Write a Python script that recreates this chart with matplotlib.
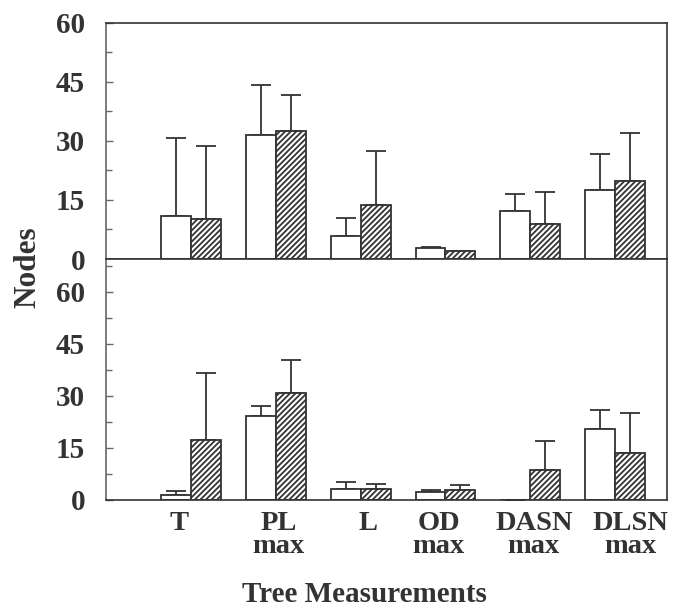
import matplotlib
matplotlib.use("Agg")
import matplotlib.pyplot as plt
import numpy as np
from matplotlib.ticker import MultipleLocator

# ---------------- data ----------------
categories = ["T", "PL\nmax", "L", "OD\nmax", "DASN\nmax", "DLSN\nmax"]

top_open_mean = [11.0, 31.6, 5.8, 2.7, 12.1, 17.5]
top_open_upper = [30.7, 44.1, 10.4, 3.1, 16.4, 26.7]
top_hatch_mean = [10.2, 32.5, 13.75, 2.0, 8.8, 19.7]
top_hatch_upper = [28.7, 41.6, 27.5, 2.0, 17.0, 32.0]

bot_open_mean = [1.3, 24.1, 3.2, 2.4, 0.0, 20.6]
bot_open_upper = [2.6, 27.0, 5.2, 2.8, 0.0, 25.9]
bot_hatch_mean = [17.35, 30.9, 3.2, 2.9, 8.65, 13.6]
bot_hatch_upper = [36.6, 40.5, 4.5, 4.3, 17.1, 25.1]

y_ticks = [0, 15, 30, 45, 60]

# ---------------- style ----------------
INK = "#333333"
FONT = "Liberation Serif"
plt.rcParams["font.family"] = [FONT, "DejaVu Serif"]
plt.rcParams["font.weight"] = "bold"
plt.rcParams["hatch.linewidth"] = 1.3
plt.rcParams["hatch.color"] = INK

W, H = 676, 608
fig = plt.figure(figsize=(W / 100, H / 100), dpi=100)

ax_left = 106 / W
ax_w = (667 - 106) / W
top_ax = fig.add_axes([ax_left, 1 - 259 / H, ax_w, (259 - 22.7) / H])
bot_ax = fig.add_axes([ax_left, 1 - 500 / H, ax_w, (500 - 259) / H])

x = np.arange(1, len(categories) + 1)
bw = 0.353
label_shift = [-0.14, 0.03, 0.09, -0.08, 0.04, 0.18]


def panel(ax, om, ou, hm, hu, ytop):
    om = np.array(om); ou = np.array(ou)
    hm = np.array(hm); hu = np.array(hu)
    xo = x - bw / 2
    xh = x + bw / 2
    ax.errorbar(xo, om, yerr=[np.zeros_like(om), ou - om], fmt="none",
                ecolor=INK, elinewidth=1.3, capsize=7, capthick=1.3, zorder=1)
    ax.errorbar(xh, hm, yerr=[np.zeros_like(hm), hu - hm], fmt="none",
                ecolor=INK, elinewidth=1.3, capsize=7, capthick=1.3, zorder=1)
    ax.bar(xo, om, width=bw, color="white", edgecolor=INK, linewidth=1.3,
           zorder=2)
    ax.bar(xh, hm, width=bw, color="white", edgecolor=INK, linewidth=1.3,
           hatch="//////", zorder=2)
    ax.set_xlim(0, 6.61)
    ax.set_ylim(0, ytop)
    ax.set_yticks(y_ticks)
    ax.yaxis.set_minor_locator(MultipleLocator(7.5))
    ax.tick_params(axis="y", which="major", direction="in", length=5,
                   width=1.0, color="#666666", pad=15, labelsize=21,
                   labelcolor=INK)
    ax.tick_params(axis="y", which="minor", direction="in", length=4,
                   width=1.0, color="#666666")
    ax.tick_params(axis="x", length=0)
    for s in ax.spines.values():
        s.set_color(INK)
        s.set_linewidth(1.2)
    ax.spines["left"].set_color("#666666")
    for lab in ax.get_yticklabels():
        lab.set_fontweight("bold")


panel(top_ax, top_open_mean, top_open_upper, top_hatch_mean, top_hatch_upper, 60)
panel(bot_ax, bot_open_mean, bot_open_upper, bot_hatch_mean, bot_hatch_upper, 69.5)

top_ax.set_xticks([])
bot_ax.set_xticks(x + np.array(label_shift))
bot_ax.set_xticklabels(categories, fontsize=20.5, fontweight="bold",
                       color=INK, linespacing=0.88)
bot_ax.tick_params(axis="x", pad=8)

fig.text(28 / W, 1 - 267 / H, "Nodes", rotation=90, ha="center", va="center",
         fontsize=22.5, fontweight="bold", color=INK)
fig.text(364.5 / W, 1 - 602 / H, "Tree Measurements", ha="center",
         va="baseline", fontsize=21, fontweight="bold", color=INK)

fig.savefig("out.png", dpi=100)
